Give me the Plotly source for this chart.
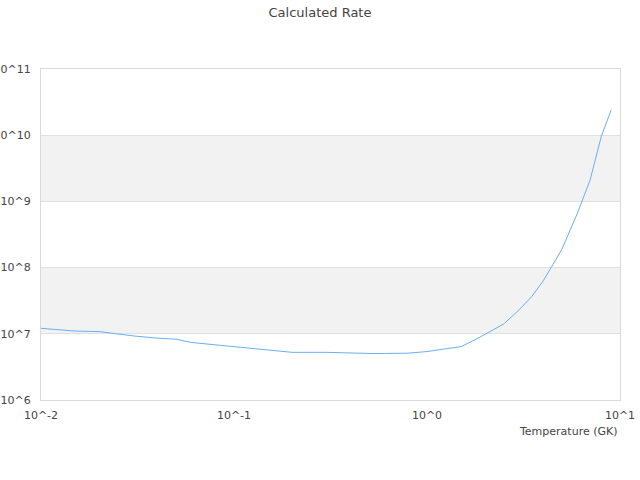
import plotly.graph_objects as go

# temperatures (GK) and rates
temp = [0.01, 0.015, 0.02, 0.03, 0.04, 0.05, 0.06, 0.07, 0.08, 0.09, 0.1,
        0.15, 0.2, 0.3, 0.4, 0.5, 0.6, 0.7, 0.8, 0.9, 1.0,
        1.5, 1.8, 2.5, 3.0, 3.5, 4.0, 4.5, 5.0, 6.0, 7.0, 8.0, 9.0]
rate = [1.21e7, 1.10e7, 1.08e7, 9.3e6, 8.6e6, 8.3e6, 7.4e6, 7.1e6, 6.85e6, 6.6e6, 6.4e6,
        5.65e6, 5.25e6, 5.25e6, 5.1e6, 5.05e6, 5.05e6, 5.05e6, 5.1e6, 5.25e6, 5.4e6,
        6.4e6, 8.3e6, 1.41e7, 2.3e7, 3.7e7, 6.3e7, 1.12e8, 1.9e8, 6.5e8, 2.1e9, 9.6e9, 2.4e10]

x_ticks = [0.01, 0.1, 1, 10]
x_labels = ["10^-2", "10^-1", "10^0", "10^1"]
y_ticks = [1e6, 1e7, 1e8, 1e9, 1e10, 1e11]
y_labels = ["10^6", "10^7", "10^8", "10^9", "10^10", "10^11"]
bands = [(1e7, 1e8), (1e9, 1e10)]

fig = go.Figure()
fig.add_trace(go.Scatter(x=temp, y=rate, mode="lines",
                         line=dict(color="#6aaef2", width=1), hoverinfo="x+y"))

for lo, hi in bands:
    fig.add_shape(type="rect", xref="paper", yref="y", x0=0, x1=1, y0=lo, y1=hi,
                  fillcolor="#f2f2f2", line=dict(width=0), layer="below")

fig.update_layout(
    width=640, height=480,
    margin=dict(l=41, r=20, t=69, b=80),
    paper_bgcolor="white", plot_bgcolor="white",
    font=dict(family="DejaVu Sans", size=11, color="#444"),
    title=dict(text="Calculated Rate", x=0.5, xanchor="center", y=0.975, yanchor="middle",
               font=dict(size=13, color="#444")),
    showlegend=False,
    annotations=[dict(text="Temperature (GK)", xref="paper", yref="paper", x=1, y=-0.094,
                      xanchor="right", yanchor="middle", showarrow=False,
                      font=dict(size=11, color="#444"))],
)
fig.update_xaxes(type="log", range=[-2, 1], tickvals=x_ticks, ticktext=x_labels,
                 showgrid=False, showline=True, linecolor="#d9d9d9", mirror=True,
                 ticks="", ticklabelstandoff=5, zeroline=False, automargin=False)
fig.update_yaxes(type="log", range=[6, 11], tickvals=y_ticks, ticktext=y_labels,
                 showgrid=True, gridcolor="#e0e0e0", showline=True, linecolor="#d9d9d9",
                 mirror=True, ticks="", ticklabelstandoff=7, zeroline=False, automargin=False)

# page has a default 8px body margin; drop it so the figure sits at the window corner
fig.write_html("out.html", config={"displayModeBar": False},
               post_script="document.body.style.margin='0';")
